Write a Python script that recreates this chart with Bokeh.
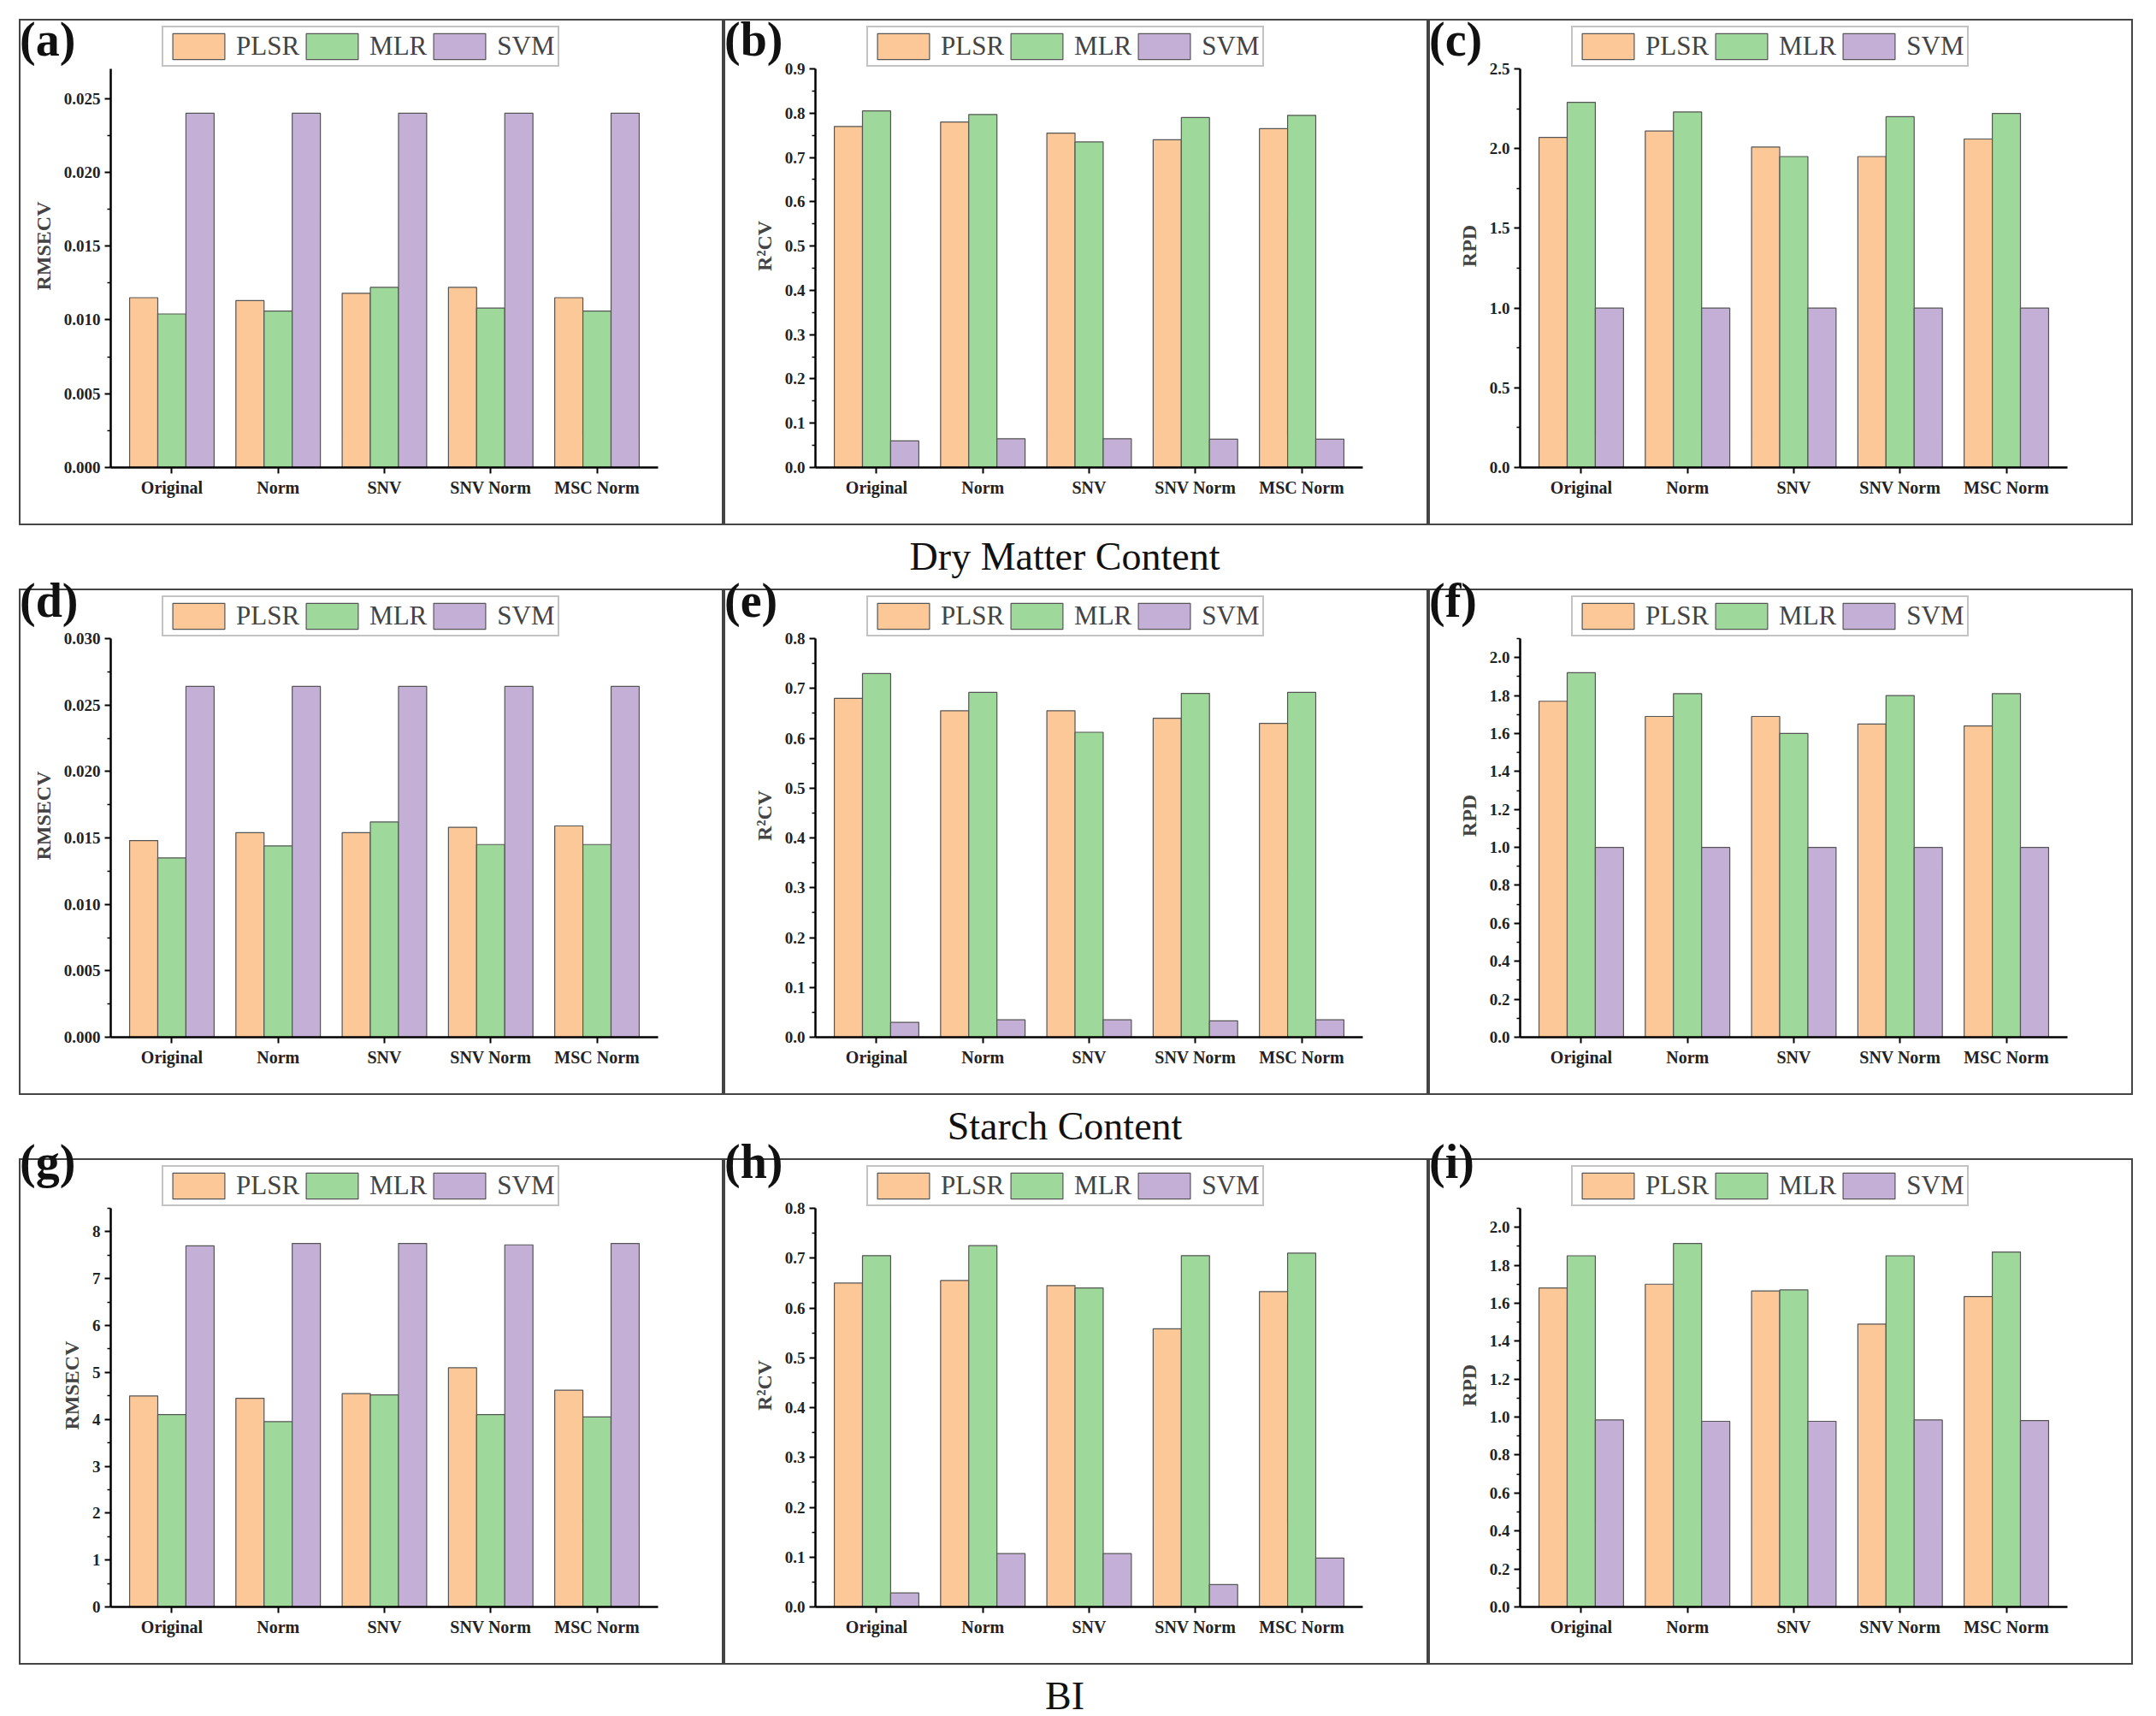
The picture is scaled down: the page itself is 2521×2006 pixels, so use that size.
from bokeh.plotting import figure
from bokeh.models import Legend, LegendItem, Div, ColumnDataSource, FactorRange
from bokeh.layouts import column, row
from bokeh.transform import dodge
from bokeh.embed import file_html
from bokeh.resources import INLINE

categories = ["Original", "Norm", "SNV", "SNV Norm", "MSC Norm"]
series_names = ["PLSR", "MLR", "SVM"]
colors = ["#FDC897", "#9ED89A", "#C4B0D6"]

a_plsr = [0.0115, 0.0113, 0.0118, 0.0122, 0.0115]
a_mlr = [0.0104, 0.0106, 0.0122, 0.0108, 0.0106]
a_svm = [0.0240, 0.0240, 0.0240, 0.0240, 0.0240]
b_plsr = [0.770, 0.780, 0.755, 0.740, 0.765]
b_mlr = [0.805, 0.797, 0.735, 0.790, 0.795]
b_svm = [0.060, 0.065, 0.065, 0.064, 0.064]
c_plsr = [2.07, 2.11, 2.01, 1.95, 2.06]
c_mlr = [2.29, 2.23, 1.95, 2.20, 2.22]
c_svm = [1.00, 1.00, 1.00, 1.00, 1.00]
d_plsr = [0.0148, 0.0154, 0.0154, 0.0158, 0.0159]
d_mlr = [0.0135, 0.0144, 0.0162, 0.0145, 0.0145]
d_svm = [0.0264, 0.0264, 0.0264, 0.0264, 0.0264]
e_plsr = [0.680, 0.655, 0.655, 0.640, 0.630]
e_mlr = [0.730, 0.692, 0.612, 0.690, 0.692]
e_svm = [0.030, 0.035, 0.035, 0.033, 0.035]
f_plsr = [1.77, 1.69, 1.69, 1.65, 1.64]
f_mlr = [1.92, 1.81, 1.60, 1.80, 1.81]
f_svm = [1.00, 1.00, 1.00, 1.00, 1.00]
g_plsr = [4.50, 4.45, 4.55, 5.10, 4.62]
g_mlr = [4.10, 3.95, 4.52, 4.10, 4.05]
g_svm = [7.70, 7.75, 7.75, 7.72, 7.75]
h_plsr = [0.650, 0.655, 0.645, 0.558, 0.633]
h_mlr = [0.705, 0.725, 0.640, 0.705, 0.710]
h_svm = [0.028, 0.107, 0.107, 0.045, 0.098]
i_plsr = [1.68, 1.70, 1.665, 1.49, 1.635]
i_mlr = [1.85, 1.915, 1.67, 1.85, 1.87]
i_svm = [0.985, 0.978, 0.978, 0.985, 0.982]

ylabels = ["RMSECV", "R²CV", "RPD"]
section_titles = ["Dry Matter Content", "Starch Content", "BI"]
letters = ["(a)", "(b)", "(c)", "(d)", "(e)", "(f)", "(g)", "(h)", "(i)"]

panels = [
    (a_plsr, a_mlr, a_svm, 0, 0.027, 0.005, "%.3f"),
    (b_plsr, b_mlr, b_svm, 1, 0.9, 0.1, "%.1f"),
    (c_plsr, c_mlr, c_svm, 2, 2.5, 0.5, "%.1f"),
    (d_plsr, d_mlr, d_svm, 0, 0.030, 0.005, "%.3f"),
    (e_plsr, e_mlr, e_svm, 1, 0.8, 0.1, "%.1f"),
    (f_plsr, f_mlr, f_svm, 2, 2.1, 0.2, "%.1f"),
    (g_plsr, g_mlr, g_svm, 0, 8.5, 1, "%d"),
    (h_plsr, h_mlr, h_svm, 1, 0.8, 0.1, "%.1f"),
    (i_plsr, i_mlr, i_svm, 2, 2.1, 0.2, "%.1f"),
]

FONT = "Liberation Serif"
W, H = 824, 592
BT, BB = 4, 70
FH = H - BT - BB
AXTOP = 52
TOPPAD, LEFTPAD, TITLEH = 12, 12, 64


def make_panel(s1, s2, s3, ylab_idx, ymax, step, fmt):
    from bokeh.models import FixedTicker, PrintfTickFormatter
    src = ColumnDataSource(dict(cat=categories, PLSR=s1, MLR=s2, SVM=s3))
    yend = ymax * FH / (FH - AXTOP)
    p = figure(x_range=FactorRange(*categories, range_padding=0.03), y_range=(0, yend),
               width=W, height=H, output_backend="svg", toolbar_location=None,
               min_border_left=105, min_border_right=79, min_border_top=BT, min_border_bottom=BB)
    p.styles = {"border": "2px solid #444", "box-sizing": "border-box"}
    bw = 0.265
    rs = []
    for k, (name, col) in enumerate(zip(series_names, colors)):
        r = p.vbar(x=dodge("cat", (k - 1) * bw, range=p.x_range), top=name, width=bw,
                   source=src, fill_color=col, line_color="#555555", line_width=1.2)
        rs.append(r)
    leg = Legend(items=[LegendItem(label=n, renderers=[r]) for n, r in zip(series_names, rs)],
                 orientation="horizontal", location=(60, FH - 50),
                 label_text_font=FONT, label_text_font_size="31px",
                 glyph_width=76, glyph_height=38, spacing=0, padding=3, margin=0,
                 label_standoff=6, border_line_color="#888888", border_line_width=2,
                 background_fill_alpha=1)
    p.add_layout(leg, "center")
    p.outline_line_color = None
    p.xgrid.grid_line_color = None
    p.ygrid.grid_line_color = None
    ticks = []
    v = 0.0
    while v <= ymax + 1e-9:
        ticks.append(round(v, 6))
        v += step
    minor = [round(t + step / 2, 6) for t in ticks if t + step / 2 <= ymax]
    p.yaxis.ticker = FixedTicker(ticks=ticks, minor_ticks=minor)
    p.yaxis.formatter = PrintfTickFormatter(format=fmt)
    p.yaxis.bounds = (0, ymax)
    for ax in (p.xaxis[0], p.yaxis[0]):
        ax.axis_line_width = 2.5
        ax.major_tick_line_width = 2
        ax.minor_tick_line_width = 1.5
        ax.major_tick_in = 0
        ax.major_tick_out = 7
        ax.minor_tick_in = 0
        ax.minor_tick_out = 4
        ax.major_label_text_font = FONT
        ax.major_label_text_font_style = "bold"
        ax.major_label_text_color = "#222222"
    p.xaxis.major_label_text_font_size = "20px"
    p.yaxis.major_label_text_font_size = "19px"
    p.yaxis.axis_label = ylabels[ylab_idx]
    p.yaxis.axis_label_text_font = FONT
    p.yaxis.axis_label_text_font_style = "bold"
    p.yaxis.axis_label_text_font_size = "24px"
    p.yaxis.axis_label_standoff = 8
    return p


figs = [make_panel(*pp) for pp in panels]

letter_html = ""
for idx, lt in enumerate(letters):
    r, c = divmod(idx, 3)
    left = LEFTPAD + c * W + 6
    top = TOPPAD + r * (H + TITLEH) + 1
    letter_html += ('<div style="position:absolute;left:%dpx;top:%dpx;font-family:\'%s\';'
                    'font-weight:bold;font-size:56px;line-height:1;color:#111;">%s</div>'
                    % (left, top, FONT, lt))
overlay = Div(text=letter_html, width=10, height=TOPPAD,
              styles={"overflow": "visible", "position": "relative", "z-index": "10"})

items = [overlay]
for rr in range(3):
    items.append(row(Div(width=LEFTPAD), *figs[rr * 3: rr * 3 + 3], spacing=0))
    items.append(Div(text=section_titles[rr], width=2480, height=TITLEH,
                     styles={"text-align": "center", "font-family": FONT, "font-size": "46px",
                             "line-height": "%dpx" % TITLEH, "color": "#111"}))
layout = column(*items, spacing=0)
open("out.html", "w").write(file_html(layout, INLINE))
